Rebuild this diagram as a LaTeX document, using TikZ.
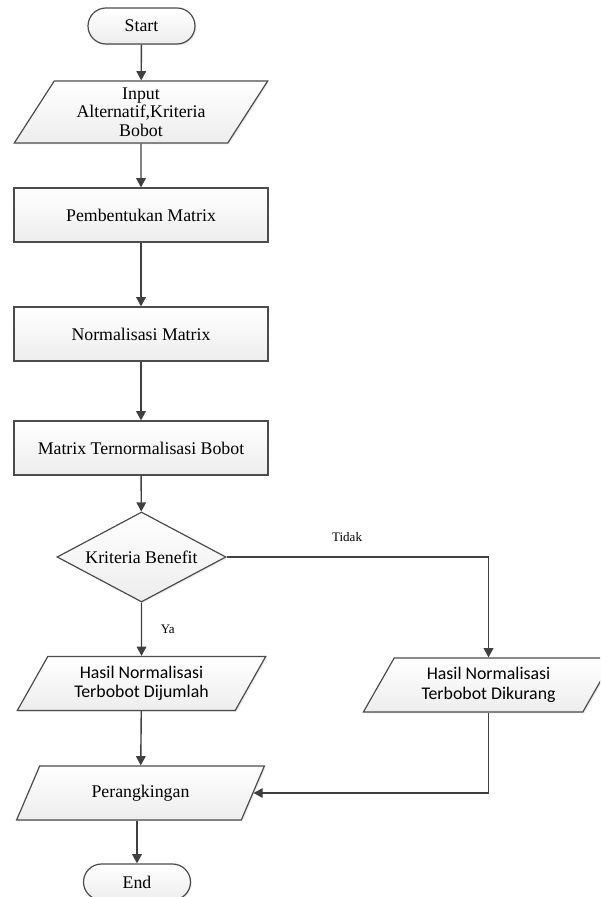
\documentclass[tikz,border=0pt]{standalone}
\usepackage{fontspec}
\setmainfont{Liberation Serif}
\newfontfamily\hasilfont{Carlito}
\usetikzlibrary{shapes.geometric,arrows.meta,shadows}

\begin{document}
\begin{tikzpicture}[x=0.5pt,y=-0.5pt,
  font=\fontsize{8.9}{9.3}\selectfont,
  box/.style={draw=black!70, line width=0.6pt, top color=white, bottom color=black!7,
    drop shadow={shadow xshift=0.7pt,shadow yshift=-0.7pt,opacity=0.15}, align=center, inner sep=1pt},
  term/.style={box, rounded corners=9pt, minimum width=53.5pt, minimum height=18pt},
  proc/.style={box, minimum width=127pt, minimum height=27pt},
  io/.style={box, trapezium, trapezium left angle=60, trapezium right angle=120,
    trapezium stretches=true, minimum height=27pt},
  cond/.style={box, diamond, aspect=1.9, inner sep=0pt, minimum width=84.5pt, minimum height=45pt},
  flow/.style={-{Triangle[length=4.6pt,width=4.8pt]}, draw=black!75, line width=0.7pt},
  lbl/.style={font=\fontsize{6.5}{7}\selectfont},
  hasil/.style={font=\hasilfont\fontsize{8.9}{9.8}\selectfont}]
\useasboundingbox (0,0) rectangle (600,897);
\clip (0,0) rectangle (600,897);

\node[term] (start) at (141.5,26) {Start};
\node[io, minimum width=128pt, minimum height=31pt] (input) at (141,112) {Input\\Alternatif,Kriteria\\Bobot};
\node[proc] (pemb) at (141,215) {Pembentukan Matrix};
\node[proc] (norm) at (141,334) {Normalisasi Matrix};
\node[proc] (mtb) at (141,448) {Matrix Ternormalisasi Bobot};
\node[cond] (krit) at (141.5,557) {Kriteria Benefit};
\node[io, hasil, minimum width=125.5pt] (jumlah) at (141.5,683.5) {Hasil Normalisasi\\Terbobot Dijumlah};
\node[io, hasil, minimum width=125.5pt] (kurang) at (488.5,685) {Hasil Normalisasi\\Terbobot Dikurang};
\node[io, minimum width=124.5pt] (rank) at (140.5,793) {Perangkingan};
\node[term] (end) at (137,882) {End};

\draw[flow] (start) -- (input);
\draw[flow] (input) -- (pemb);
\draw[flow] (pemb) -- (norm);
\draw[flow] (norm) -- (mtb);
\draw[flow] (mtb) -- (krit);
\draw[flow] (krit) -- node[lbl,right=6pt] {Ya} (jumlah);
\draw[flow] (krit.east) -| node[lbl,above=4pt,pos=0.23] {Tidak} (kurang);
\draw[flow] (jumlah) -- (rank);
\draw[flow] (kurang) |- (rank);
\draw[flow] (end |- rank.south) -- (end);
\end{tikzpicture}
\end{document}
